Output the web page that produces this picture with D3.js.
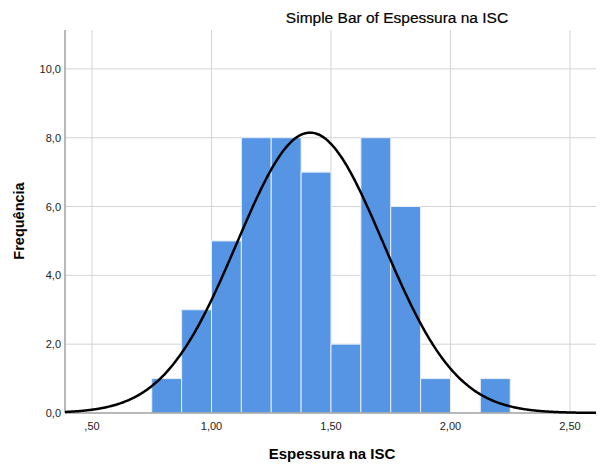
<!DOCTYPE html>
<html>
<head>
<meta charset="utf-8">
<script src="https://cdn.jsdelivr.net/npm/d3@7"></script>
<style>
  body { margin: 0; background: #fff; }
  text { font-family: "Liberation Sans", Arial, sans-serif; }
</style>
</head>
<body>
<svg id="chart" width="603" height="466"></svg>
<script>
// Histogram bins of "Espessura na ISC" (bin start) and their counts
const binStarts = [0.75, 0.875, 1.0, 1.125, 1.25, 1.375, 1.5, 1.625, 1.75, 1.875, 2.0, 2.125];
const binWidth = 0.125;
const counts = [1, 3, 5, 8, 8, 7, 2, 8, 6, 1, 0, 1];

// Fitted normal curve parameters
const fitMean = 1.4125;
const fitSd = 0.306;

// Axis ticks
const xTicks = [0.5, 1.0, 1.5, 2.0, 2.5];
const xTickLabels = [",50", "1,00", "1,50", "2,00", "2,50"];
const yTicks = [0, 2, 4, 6, 8, 10];
const yTickLabels = ["0,0", "2,0", "4,0", "6,0", "8,0", "10,0"];

const svg = d3.select("#chart");
const plotL = 65, plotR = 596, plotT = 30, plotB = 413;

const x = d3.scaleLinear().domain([0.387, 2.609]).range([plotL, plotR]);
const y = d3.scaleLinear().domain([0, 11.13]).range([plotB, plotT]);

// Grid lines
const grid = svg.append("g");
grid.selectAll("line.v").data(xTicks).join("line")
  .attr("x1", d => x(d)).attr("x2", d => x(d))
  .attr("y1", plotT).attr("y2", plotB)
  .attr("stroke", "#d4d4d4").attr("stroke-width", 1);
grid.selectAll("line.h").data(yTicks.filter(d => d > 0)).join("line")
  .attr("x1", plotL).attr("x2", plotR)
  .attr("y1", d => y(d)).attr("y2", d => y(d))
  .attr("stroke", "#d4d4d4").attr("stroke-width", 1);

// Bars
const bars = binStarts.map((s, i) => ({ x0: s, x1: s + binWidth, n: counts[i] }));
svg.append("g").selectAll("rect").data(bars.filter(d => d.n > 0)).join("rect")
  .attr("x", d => x(d.x0))
  .attr("width", d => x(d.x1) - x(d.x0))
  .attr("y", d => y(d.n))
  .attr("height", d => y(0) - y(d.n))
  .attr("fill", "#5595e4")
  .attr("stroke", "#e8eef8")
  .attr("stroke-width", 1);

// Axis lines
svg.append("line").attr("x1", plotL).attr("x2", plotL).attr("y1", plotT).attr("y2", plotB)
  .attr("stroke", "#a0a0a0").attr("stroke-width", 1.5);
svg.append("line").attr("x1", plotL).attr("x2", plotR).attr("y1", plotB).attr("y2", plotB)
  .attr("stroke", "#a0a0a0").attr("stroke-width", 1.5);

// Normal curve scaled to counts
const total = d3.sum(counts);
const pdf = v => total * binWidth / (fitSd * Math.sqrt(2 * Math.PI)) *
  Math.exp(-0.5 * Math.pow((v - fitMean) / fitSd, 2));
const xs = d3.range(0, 401).map(i => x.domain()[0] + i * (x.domain()[1] - x.domain()[0]) / 400);
svg.append("path")
  .datum(xs)
  .attr("d", d3.line().x(d => x(d)).y(d => y(pdf(d))).curve(d3.curveBasis))
  .attr("fill", "none")
  .attr("stroke", "#000")
  .attr("stroke-width", 2.5);

// Tick labels
svg.append("g").selectAll("text").data(xTicks).join("text")
  .attr("x", d => x(d)).attr("y", 430)
  .attr("text-anchor", "middle")
  .attr("font-size", 11).attr("fill", "#222")
  .text((d, i) => xTickLabels[i]);
svg.append("g").selectAll("text").data(yTicks).join("text")
  .attr("x", 61).attr("y", d => y(d) + 4)
  .attr("text-anchor", "end")
  .attr("font-size", 11).attr("fill", "#222")
  .text((d, i) => yTickLabels[i]);

// Titles
svg.append("text").attr("x", 397).attr("y", 23)
  .attr("text-anchor", "middle").attr("font-size", 15.5).attr("fill", "#000")
  .attr("stroke", "#000").attr("stroke-width", 0.2)
  .text("Simple Bar of Espessura na ISC");
svg.append("text").attr("x", 332).attr("y", 459)
  .attr("text-anchor", "middle").attr("font-size", 15).attr("font-weight", "bold").attr("fill", "#000")
  .text("Espessura na ISC");
svg.append("text")
  .attr("transform", "translate(24,221) rotate(-90)")
  .attr("text-anchor", "middle").attr("font-size", 14.5).attr("font-weight", "bold").attr("fill", "#000")
  .text("Frequência");
</script>
</body>
</html>
